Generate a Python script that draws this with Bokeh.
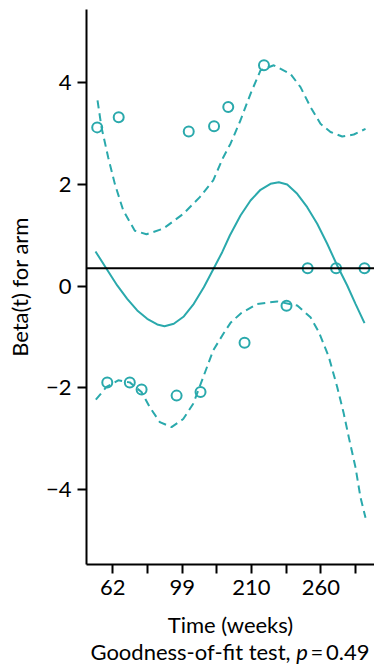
from bokeh.plotting import figure
from bokeh.models import FixedTicker, Span, Range1d, Div
from bokeh.layouts import column
from bokeh.embed import file_html
from bokeh.resources import INLINE

# ---- data ----
x_ticks = [0, 1, 2, 3, 4, 5, 6, 7]
x_tick_labels = ["62", "", "99", "", "210", "", "260", ""]
y_ticks = [-4, -2, 0, 2, 4]
y_tick_labels = ["\u22124", "\u22122", "0", "2", "4"]

coef = 0.354
p_value = "0.49"

fit_x = [-0.499, -0.182, 0.127, 0.415, 0.704, 0.992, 1.281, 1.491, 1.759, 2.048,
         2.336, 2.625, 2.913, 3.155, 3.375, 3.683, 3.972, 4.260, 4.548, 4.788,
         5.030, 5.319, 5.607, 5.896, 6.184, 6.472, 6.761, 7.000, 7.260]
fit_y = [0.682, 0.342, 0.014, -0.248, -0.477, -0.640, -0.752, -0.786, -0.739, -0.595,
         -0.346, -0.020, 0.354, 0.668, 0.996, 1.389, 1.684, 1.894, 2.012, 2.043,
         1.998, 1.815, 1.552, 1.226, 0.833, 0.407, 0.014, -0.346, -0.727]

upper_x = [-0.441, -0.326, -0.133, 0.058, 0.300, 0.635, 0.972, 1.454, 2.031, 2.509,
           2.896, 3.184, 3.395, 3.683, 3.972, 4.260, 4.644, 5.125, 5.414, 5.702,
           5.990, 6.279, 6.616, 6.951, 7.289]
upper_y = [3.65, 3.12, 2.53, 2.01, 1.49, 1.09, 1.02, 1.13, 1.42, 1.75,
           2.08, 2.53, 2.80, 3.26, 3.78, 4.24, 4.34, 4.17, 3.91, 3.52,
           3.19, 3.03, 2.94, 2.98, 3.09]

lower_x = [-0.490, -0.182, 0.156, 0.490, 0.828, 1.067, 1.356, 1.693, 2.031, 2.319,
           2.607, 2.896, 3.184, 3.395, 3.683, 4.165, 4.742, 5.319, 5.702, 5.942,
           6.230, 6.472, 6.654, 6.807, 7.000, 7.144, 7.289]
lower_y = [-2.23, -1.98, -1.85, -1.89, -2.08, -2.38, -2.67, -2.77, -2.61, -2.31,
           -1.79, -1.26, -0.94, -0.72, -0.54, -0.35, -0.30, -0.38, -0.61, -0.90,
           -1.39, -1.98, -2.48, -2.97, -3.56, -4.15, -4.55]

resid_x = [-0.45, 0.17, 2.19, 2.92, 3.33, 4.36, 5.62, 6.44, 7.26, 5.01, 3.80,
           -0.16, 0.49, 0.83, 1.84, 2.53]
resid_y = [3.12, 3.32, 3.04, 3.14, 3.52, 4.34, 0.354, 0.354, 0.354, -0.385, -1.11,
           -1.89, -1.89, -2.03, -2.15, -2.08]

teal = "#2AA9AC"
FONT = "Lato"
FS = "22px"

p = figure(width=374, height=641, output_backend="svg", toolbar_location=None,
           x_range=Range1d(-0.759, 7.548), y_range=Range1d(-5.468, 5.436),
           min_border_left=86, min_border_right=0, min_border_top=9,
           min_border_bottom=77)
p.outline_line_color = None
p.grid.grid_line_color = None
p.background_fill_color = "white"
p.border_fill_color = "white"

for ax in (p.xaxis[0], p.yaxis[0]):
    ax.axis_line_width = 2
    ax.axis_line_color = "black"
    ax.major_tick_line_width = 2
    ax.major_tick_line_color = "black"
    ax.major_tick_out = 9
    ax.major_tick_in = 0
    ax.minor_tick_line_color = None
    ax.major_label_text_font = FONT
    ax.major_label_text_font_size = FS
    ax.major_label_text_color = "black"
    ax.axis_label_text_font = FONT
    ax.axis_label_text_font_size = FS
    ax.axis_label_text_font_style = "normal"
    ax.axis_label_text_color = "black"

p.xaxis.ticker = FixedTicker(ticks=x_ticks)
p.xaxis.major_label_overrides = dict(zip(x_ticks, x_tick_labels))
p.xaxis.major_label_standoff = 6
p.xaxis.axis_label = "Time (weeks)"
p.xaxis.axis_label_standoff = 13

p.yaxis.ticker = FixedTicker(ticks=y_ticks)
p.yaxis.major_label_overrides = dict(zip(y_ticks, y_tick_labels))
p.yaxis.major_label_standoff = 6
p.yaxis.axis_label = "Beta(t) for arm"
p.yaxis.axis_label_standoff = 10

p.add_layout(Span(location=coef, dimension="width", line_color="black", line_width=2))

p.line(fit_x, fit_y, line_color=teal, line_width=2)
p.line(upper_x, upper_y, line_color=teal, line_width=2, line_dash="8 5")
p.line(lower_x, lower_y, line_color=teal, line_width=2, line_dash="8 5")
p.scatter(resid_x, resid_y, marker="circle", size=10, fill_color=None,
          line_color=teal, line_width=2)

caption = Div(
    text="Goodness-of-fit test, <i>p</i>\u2009=\u2009" + p_value,
    width=300, height=28, margin=(0, 0, 0, 80),
    styles={"font-family": "Lato", "font-size": FS, "text-align": "center",
            "line-height": "22px", "color": "black", "white-space": "nowrap"})

layout = column(p, caption, spacing=0)
open("out.html", "w").write(file_html(layout, INLINE))
